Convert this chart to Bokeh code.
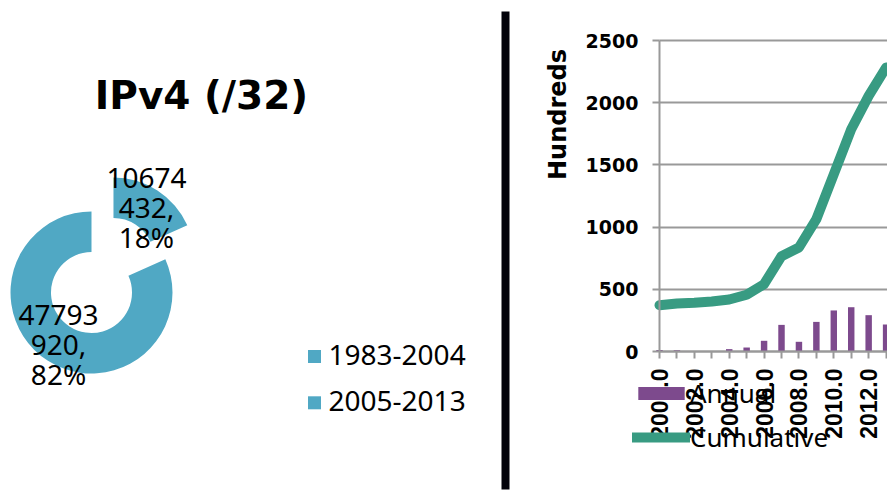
import math
from bokeh.plotting import figure
from bokeh.models import Range1d, FixedTicker, Legend, LegendItem, Grid
from bokeh.core.properties import value
from bokeh.embed import file_html
from bokeh.resources import INLINE

# ---------------- data ----------------
title_text = "IPv4 (/32)"
pie_categories = ["1983-2004", "2005-2013"]
pie_values = [10674432, 47793920]

years = [2000, 2001, 2002, 2003, 2004, 2005, 2006, 2007, 2008, 2009, 2010, 2011, 2012, 2013]
annual = [12, 10, 2, 2, 19, 32, 86, 214, 78, 238, 330, 356, 292, 217]
cumulative = [372, 386, 391, 402, 418, 456, 541, 766, 836, 1064, 1425, 1787, 2055, 2283]
y_ticks = [0, 500, 1000, 1500, 2000, 2500]
y_axis_title = "Hundreds"
series_names = ["Annual", "Cumulative"]

# ---------------- layout / style ----------------
W, H = 887, 490
PIE_COLOR = "#50A8C4"
BAR_COLOR = "#7D4A8D"
LINE_COLOR = "#389B82"
GRID_COLOR = "#999999"
AX_X, AX_TOP, AX_BOTTOM = 659, 40, 351      # pixel position of chart axes
PX_PER_YEAR = 17.43


def py(v):
    return H - v


k = (y_ticks[-1] - y_ticks[0]) / (AX_BOTTOM - AX_TOP)
x_start = years[0] - AX_X / PX_PER_YEAR
x_end = years[0] + (W - AX_X) / PX_PER_YEAR
y_start = y_ticks[0] - (H - AX_BOTTOM) * k
y_end = y_ticks[-1] + AX_TOP * k

p = figure(width=W, height=H, x_range=Range1d(x_start, x_end), y_range=Range1d(y_start, y_end),
           output_backend="svg", toolbar_location=None, min_border=0)
p.extra_x_ranges = {"px": Range1d(0, W)}
p.extra_y_ranges = {"px": Range1d(0, H)}
p.outline_line_color = None
p.xgrid.visible = False

# ---------------- left panel: donut ----------------
cx, cy = 91, py(292)
R_OUT, R_IN = 81, 40.5
EXPLODE = 0.5 * R_OUT
total = float(sum(pie_values))
start = math.pi / 2
xs, ys, a0s, a1s, lxs, lys, labels = [], [], [], [], [], [], []
for i, v in enumerate(pie_values):
    frac = v / total
    a0 = start
    a1 = start - frac * 2 * math.pi
    mid = (a0 + a1) / 2
    off = EXPLODE if i == 0 else 0.0
    x = cx + off * math.cos(mid)
    y = cy + off * math.sin(mid)
    xs.append(x); ys.append(y); a0s.append(a0); a1s.append(a1)
    rl = (R_OUT + R_IN) / 2
    lxs.append(x + rl * math.cos(mid)); lys.append(y + rl * math.sin(mid))
    s = str(v)
    labels.append(f"{s[:5]}\n{s[5:]},\n{round(frac * 100)}%")
    start = a1

PX = dict(x_range_name="px", y_range_name="px")
p.annular_wedge(x=xs, y=ys, inner_radius=R_IN, outer_radius=R_OUT,
                start_angle=a0s, end_angle=a1s, direction="clock",
                fill_color=PIE_COLOR, line_color=None, **PX)
p.text(x=lxs, y=lys, text=labels, text_font=value("Noto Sans"), text_font_size="28px",
       text_align="center", text_baseline="middle", text_line_height=0.79,
       text_color="black", **PX)

# title
p.text(x=[201], y=[py(94.5)], text=[title_text], text_font=value("DejaVu Sans"),
       text_font_style="bold", text_font_size="39px", text_align="center",
       text_baseline="middle", text_color="black", **PX)

# pie legend
p.scatter(x=[314, 314], y=[py(356), py(402.3)], marker="square", size=13,
          fill_color=PIE_COLOR, line_color=None, **PX)
p.text(x=[328, 328], y=[py(354.7), py(400.7)], text=pie_categories,
       text_font=value("Noto Sans"), text_font_size="28px", text_align="left",
       text_baseline="middle", text_color="black", **PX)

# separator
p.segment(x0=[505], y0=[py(11)], x1=[505], y1=[py(489)], line_width=8,
          line_color="#02020A", **PX)

# y axis title of the chart
p.text(x=[557.5], y=[py(114)], text=[y_axis_title], angle=math.pi / 2,
       text_font=value("DejaVu Sans"), text_font_style="bold", text_font_size="24px",
       text_align="center", text_baseline="middle", text_color="black", **PX)

# ---------------- right panel: chart ----------------
p.ygrid.ticker = FixedTicker(ticks=y_ticks)
p.ygrid.grid_line_color = GRID_COLOR
p.ygrid.grid_line_width = 2
p.ygrid.bounds = (y_ticks[0], y_ticks[-1])
if "cross_bounds" in Grid.properties():
    p.ygrid.cross_bounds = (years[0], x_end)

bars = p.vbar(x=years, top=annual, width=0.37, fill_color=BAR_COLOR, line_color=None)
line = p.line(x=years, y=cumulative, line_width=10, line_color=LINE_COLOR,
              line_cap="round", line_join="round")

xa = p.xaxis[0]
xa.fixed_location = y_ticks[0]
xa.bounds = (years[0], x_end)
xa.ticker = FixedTicker(ticks=years)
xa.major_label_overrides = {y: (f"{y}.0" if (y - years[0]) % 2 == 0 else "") for y in years}
xa.major_label_orientation = math.pi / 2
xa.major_label_text_font = "Liberation Sans"
xa.major_label_text_font_style = "bold"
xa.major_label_text_font_size = "23px"
xa.major_label_text_color = "black"
xa.major_label_standoff = 10
xa.major_tick_out = 7
xa.major_tick_in = 0
xa.minor_tick_line_color = None
xa.major_tick_line_color = GRID_COLOR
xa.major_tick_line_width = 2
xa.axis_line_color = GRID_COLOR
xa.axis_line_width = 2

ya = p.yaxis[0]
ya.fixed_location = years[0]
ya.bounds = (y_ticks[0], y_ticks[-1])
ya.ticker = FixedTicker(ticks=y_ticks)
ya.major_label_text_font = "DejaVu Sans"
ya.major_label_text_font_style = "bold"
ya.major_label_text_font_size = "19px"
ya.major_label_text_color = "black"
ya.major_label_standoff = 14
ya.major_tick_out = 7
ya.major_tick_in = 0
ya.minor_tick_line_color = None
ya.major_tick_line_color = GRID_COLOR
ya.major_tick_line_width = 2
ya.axis_line_color = GRID_COLOR
ya.axis_line_width = 2

legend = Legend(items=[LegendItem(label=series_names[0], renderers=[bars]),
                       LegendItem(label=series_names[1], renderers=[line])],
                location=(632, 35), orientation="vertical",
                glyph_width=58, glyph_height=16, label_standoff=0, spacing=8,
                padding=0, margin=0, background_fill_alpha=0, border_line_alpha=0,
                label_text_font="Noto Sans", label_text_font_size="26px",
                label_text_color="black", label_text_baseline="alphabetic")
p.add_layout(legend)

open("out.html", "w").write(file_html(p, INLINE))
